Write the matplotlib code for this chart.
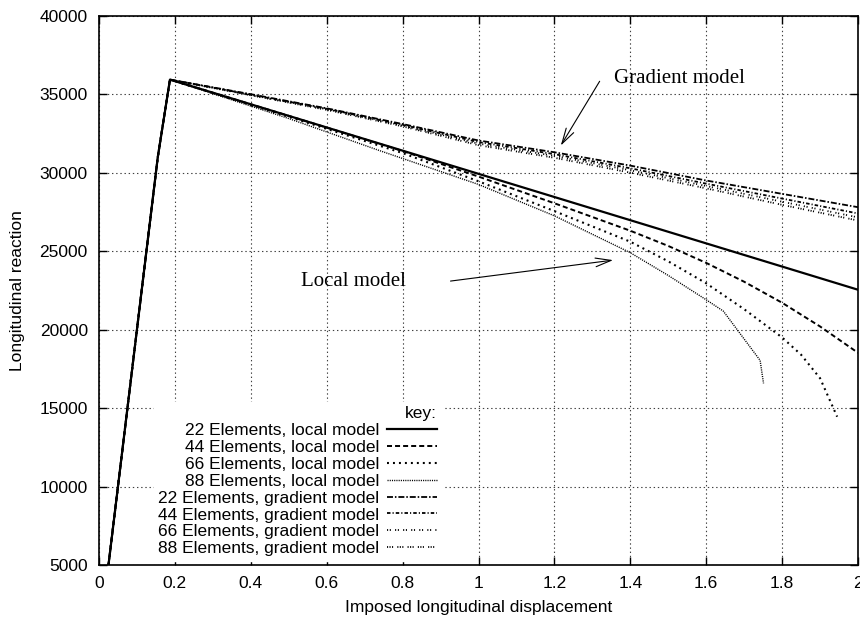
import matplotlib
matplotlib.use("Agg")
import matplotlib.pyplot as plt

# --- data ---
rise_x = [0.025, 0.155, 0.187]
rise_y = [5000, 31000, 35930]

local22_x = [2.0]
local22_y = [22540]

local44_x = [0.5, 0.8, 1.0, 1.2, 1.4, 1.5, 1.6, 1.7, 1.8, 1.9, 2.0]
local44_y = [33620, 31380, 29750, 28050, 26300, 25330, 24250, 23050, 21710, 20200, 18520]

local66_x = [0.5, 0.8, 1.0, 1.2, 1.4, 1.5, 1.6, 1.7, 1.8, 1.85, 1.9, 1.945]
local66_y = [33560, 31250, 29450, 27550, 25600, 24350, 22950, 21300, 19500, 18400, 16900, 14450]

local88_x = [0.5, 0.74, 1.0, 1.2, 1.4, 1.5, 1.6, 1.645, 1.742, 1.751]
local88_y = [33450, 31400, 29250, 27250, 24900, 23450, 21900, 21180, 18040, 16575]

grad_x = [0.4, 0.6, 0.8, 1.0, 1.2, 1.4, 1.6, 1.8, 2.0]
grad22_y = [35000, 34100, 33100, 32050, 31300, 30450, 29500, 28650, 27800]
grad44_y = [34970, 34070, 33050, 31950, 31180, 30280, 29300, 28350, 27400]
grad66_y = [34950, 34040, 33000, 31850, 31070, 30150, 29150, 28150, 27150]
grad88_y = [34930, 34000, 32950, 31750, 30950, 30000, 29000, 27950, 26950]

labels = ["22 Elements, local model", "44 Elements, local model",
          "66 Elements, local model", "88 Elements, local model",
          "22 Elements, gradient model", "44 Elements, gradient model",
          "66 Elements, gradient model", "88 Elements, gradient model"]

# --- style ---
plt.rcParams["font.family"] = ["Liberation Sans", "DejaVu Sans"]
plt.rcParams["font.size"] = 12.5
plt.rcParams["lines.scale_dashes"] = False

fig = plt.figure(figsize=(8.6, 6.19), dpi=100)
ax = fig.add_axes([0.1151, 0.0872, 0.8826, 0.8874])

series = [
    (local22_x, local22_y, "-", 1.6),
    (local44_x, local44_y, (0, (3.6, 2.2)), 1.4),
    (local66_x, local66_y, (0, (1.4, 2.9)), 1.5),
    (local88_x, local88_y, (0, (0.8, 0.8)), 1.0),
    (grad_x, grad22_y, (0, (4.3, 1.4, 1.1, 1.4)), 1.3),
    (grad_x, grad44_y, (0, (2.5, 1.5, 0.8, 1.5)), 1.3),
    (grad_x, grad66_y, (0, (0.8, 1.2, 0.8, 3.0)), 1.3),
    (grad_x, grad88_y, (0, (0.8, 1.0, 0.8, 1.0, 0.8, 3.0)), 1.3),
]
for (sx, sy, ls, lw), lab in zip(series, labels):
    ax.plot(rise_x + sx, rise_y + sy, color="black", linestyle=ls,
            linewidth=lw, label=lab, dash_capstyle="butt")

ax.set_xlim(0, 2)
ax.set_ylim(5000, 40000)
ax.set_xticks([0, 0.2, 0.4, 0.6, 0.8, 1, 1.2, 1.4, 1.6, 1.8, 2])
ax.set_xticklabels(["0", "0.2", "0.4", "0.6", "0.8", "1", "1.2", "1.4", "1.6", "1.8", "2"])
ax.set_yticks(range(5000, 40001, 5000))
ax.grid(True, color="0.25", linestyle=(0, (1, 2)), linewidth=0.8)
ax.tick_params(direction="in", length=5.5, width=1, top=True, right=True,
               labelsize=12.5)
ax.tick_params(axis="x", pad=8)
ax.tick_params(axis="y", pad=8)
for sp in ax.spines.values():
    sp.set_linewidth(1.2)

ax.set_xlabel("Imposed longitudinal displacement", fontsize=12.5)
ax.set_ylabel("Longitudinal reaction", fontsize=12.5)
ax.xaxis.set_label_coords(0.5, -0.064)
ax.yaxis.set_label_coords(-0.097, 0.5)

# annotations
ax.annotate("", xy=(1.213, 31575), xytext=(1.323, 35975),
            arrowprops=dict(arrowstyle="->,head_length=0.9,head_width=0.25",
                            color="black", lw=0.8))
ax.text(1.358, 35995, "Gradient model", family="Liberation Serif",
        fontsize=15, va="center", ha="left")
ax.annotate("", xy=(1.362, 24450), xytext=(0.919, 23070),
            arrowprops=dict(arrowstyle="->,head_length=0.9,head_width=0.25",
                            color="black", lw=0.8))
ax.text(0.533, 23070, "Local model", family="Liberation Serif",
        fontsize=15, va="center", ha="left")

leg = ax.legend(loc="lower left", bbox_to_anchor=(0.072, 0.008),
                title="key:", markerfirst=False, alignment="right",
                frameon=True, fancybox=False, edgecolor="white",
                facecolor="white", framealpha=1, borderaxespad=0,
                borderpad=0.25, labelspacing=0.1, handlelength=2.9,
                handletextpad=0.45, fontsize=12.5, title_fontsize=12.5)
for t in leg.get_texts():
    t.set_ha("right")

fig.savefig("out.png", dpi=100)
